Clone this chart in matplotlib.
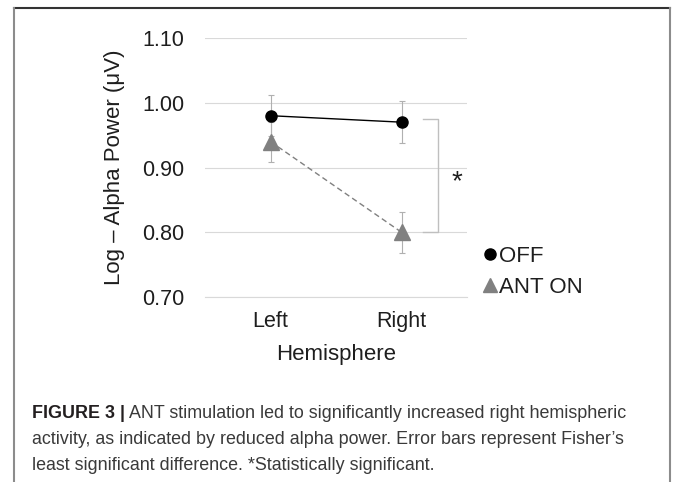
import matplotlib
matplotlib.use("Agg")
import matplotlib.pyplot as plt
from matplotlib.lines import Line2D

hemispheres = ["Left", "Right"]
off_power = [0.98, 0.97]
ant_on_power = [0.94, 0.80]
off_lsd = [0.032, 0.032]
ant_on_lsd = [0.031, 0.032]
yticks = [0.70, 0.80, 0.90, 1.00, 1.10]
bracket_y = [0.975, 0.80]

caption_bold = "FIGURE 3 |"
caption_lines = [
    " ANT stimulation led to significantly increased right hemispheric",
    "activity, as indicated by reduced alpha power. Error bars represent Fisher\u2019s",
    "least significant difference. *Statistically significant.",
]

W, H = 673, 482
plt.rcParams["font.family"] = ["Liberation Sans", "DejaVu Sans"]
txt = "#1e1e1e"

fig = plt.figure(figsize=(W / 100, H / 100), dpi=100)
ax = fig.add_axes([205 / W, 1 - 297 / H, 262 / W, (297 - 38) / H])

x = [0, 1]
ax.errorbar(x, off_power, yerr=off_lsd, fmt="none", ecolor="#b0b0b0",
            elinewidth=0.8, capsize=2.5, capthick=0.8, zorder=2)
ax.errorbar(x, ant_on_power, yerr=ant_on_lsd, fmt="none", ecolor="#b0b0b0",
            elinewidth=0.8, capsize=2.5, capthick=0.8, zorder=2)
off_line, = ax.plot(x, off_power, color="black", lw=1.0, marker="o", ms=8,
                    zorder=4)
ant_line, = ax.plot(x, ant_on_power, color="#808080", lw=1.0, ls=(0, (4, 2.5)),
                    marker="^", ms=12, zorder=3)

# significance bracket
bx0, bx1 = 1.164, 1.279
ax.plot([bx0, bx1, bx1, bx0], [bracket_y[0], bracket_y[0], bracket_y[1], bracket_y[1]],
        color="#bfbfbf", lw=1.0, clip_on=False, zorder=1)
ax.text(1.425, 0.878, "*", fontsize=20, color=txt, ha="center", va="center")

ax.set_xlim(-0.5, 1.5)
ax.set_ylim(0.70, 1.10)
ax.set_xticks(x)
ax.set_xticklabels(hemispheres)
ax.set_yticks(yticks)
ax.set_yticklabels([f"{v:.2f}" for v in yticks])
ax.grid(axis="y", color="#d9d9d9", lw=0.8)
ax.set_axisbelow(True)
for s in ["top", "right", "left"]:
    ax.spines[s].set_visible(False)
ax.spines["bottom"].set_color("#d9d9d9")
ax.spines["bottom"].set_linewidth(0.8)
ax.tick_params(length=0, labelsize=15.5, colors=txt)
ax.tick_params(axis="y", pad=15)
ax.tick_params(axis="x", pad=10)
ax.set_xlabel("Hemisphere", fontsize=16, color=txt)
ax.set_ylabel("Log \u2013 Alpha Power (\u03bcV)", fontsize=16, color=txt)
ax.xaxis.set_label_coords(0.5, -0.18)
ax.yaxis.set_label_coords(-0.305, 0.5)

h_off = Line2D([], [], color="black", marker="o", ms=8, ls="none")
h_ant = Line2D([], [], color="#808080", marker="^", ms=10, ls="none")
leg = fig.legend(handles=[h_off, h_ant], labels=["OFF", "ANT ON"],
                 loc="upper left", bbox_to_anchor=(482 / W, 1 - 246 / H),
                 frameon=False, fontsize=16, handlelength=0.7, handletextpad=0.05,
                 labelspacing=0.45, borderpad=0, borderaxespad=0)
for t in leg.get_texts():
    t.set_color(txt)

# frame around the figure panel
fig.add_artist(Line2D([14 / W, 670 / W], [1 - 8 / H, 1 - 8 / H], color="#333333", lw=1.5))
fig.add_artist(Line2D([14 / W, 14 / W], [0, 1 - 8 / H], color="#8c8c8c", lw=1.5))
fig.add_artist(Line2D([670 / W, 670 / W], [0, 1 - 8 / H], color="#8c8c8c", lw=1.5))

# caption
cap_size = 14.0
line_y = [414, 440, 465]
renderer = fig.canvas.get_renderer()
b = fig.text(32 / W, 1 - line_y[0] / H, caption_bold, fontsize=cap_size,
             fontweight="bold", color="#231f20", va="center")
r = fig.text(0, 1 - line_y[0] / H, caption_lines[0], fontsize=cap_size,
             color="#3a3a3a", va="center")
w = b.get_window_extent(renderer).width + r.get_window_extent(renderer).width
cap_size = cap_size * 595 / w
b.set_fontsize(cap_size)
r.set_fontsize(cap_size)
r.set_x(b.get_window_extent(renderer).x1 / W)
for line, yy in zip(caption_lines[1:], line_y[1:]):
    fig.text(32 / W, 1 - yy / H, line, fontsize=cap_size, color="#3a3a3a",
             va="center")

fig.savefig("out.png", dpi=100)
